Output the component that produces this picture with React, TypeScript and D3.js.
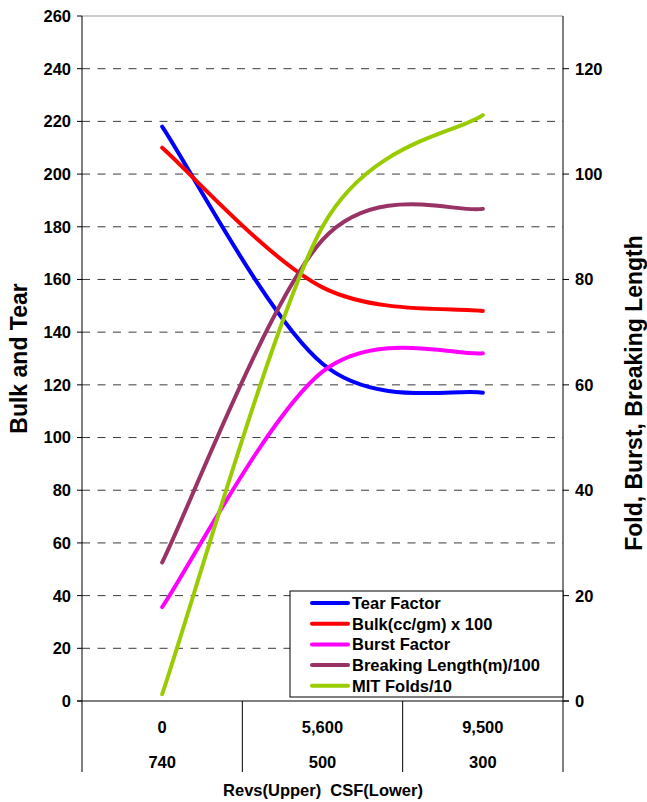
import React from "react";
import * as d3 from "d3";

const categoriesUpper = ["0", "5,600", "9,500"];
const categoriesLower = ["740", "500", "300"];
const tearFactor = [218, 128, 117];
const bulk = [210, 157, 148];
const burstFactor = [17.8, 62.5, 66];
const breakingLength = [26.3, 87.5, 93.4];
const mitFolds = [1.3, 90, 111.2];
const leftTicks = d3.range(0, 261, 20);
const rightTicks = d3.range(0, 121, 20);

const W = 647;
const H = 802;
const L = 82, R = 563, T = 16, B = 701;
const FONT = "'Liberation Sans', Arial, sans-serif";

// Excel-like smoothed curve: Catmull-Rom style Bezier (1/6 tangents),
// with each tangent limited to half the shorter adjacent segment.
class ExcelSmooth {
  _ctx: any;
  _pts: [number, number][] = [];
  constructor(ctx: any) { this._ctx = ctx; }
  areaStart() {}
  areaEnd() {}
  lineStart() { this._pts = []; }
  point(x: number, y: number) { this._pts.push([+x, +y]); }
  lineEnd() {
    const p = this._pts;
    const n = p.length;
    if (!n) return;
    const ctx = this._ctx;
    ctx.moveTo(p[0][0], p[0][1]);
    if (n === 1) return;
    const dist = (a: [number, number], b: [number, number]) => Math.hypot(b[0] - a[0], b[1] - a[1]);
    const m: [number, number][] = p.map((pt, i) => {
      const prev = p[Math.max(0, i - 1)];
      const next = p[Math.min(n - 1, i + 1)];
      let vx = (next[0] - prev[0]) / 6;
      let vy = (next[1] - prev[1]) / 6;
      if (i > 0 && i < n - 1) {
        const len = Math.hypot(vx, vy);
        const lim = Math.min(dist(prev, pt), dist(pt, next)) / 2;
        if (len > lim && len > 0) {
          vx *= lim / len;
          vy *= lim / len;
        }
      }
      return [vx, vy];
    });
    for (let i = 0; i < n - 1; i++) {
      ctx.bezierCurveTo(
        p[i][0] + m[i][0], p[i][1] + m[i][1],
        p[i + 1][0] - m[i + 1][0], p[i + 1][1] - m[i + 1][1],
        p[i + 1][0], p[i + 1][1]
      );
    }
  }
}
const curveExcel = (ctx: any) => new ExcelSmooth(ctx);

export default function App() {
  const x = d3.scaleBand<number>().domain([0, 1, 2]).range([L, R]).padding(0);
  const cx = (i: number) => (x(i) as number) + x.bandwidth() / 2;
  const yL = d3.scaleLinear().domain([0, 260]).range([B, T]);
  const yR = d3.scaleLinear().domain([0, 130]).range([B, T]);

  const series = [
    { name: "Tear Factor", values: tearFactor, axis: "L", color: "#0000FF" },
    { name: "Bulk(cc/gm) x 100", values: bulk, axis: "L", color: "#FF0000" },
    { name: "Burst Factor", values: burstFactor, axis: "R", color: "#FF00FF" },
    { name: "Breaking Length(m)/100", values: breakingLength, axis: "R", color: "#993366" },
    { name: "MIT Folds/10", values: mitFolds, axis: "R", color: "#99CC00" },
  ];

  const lineGen = (scale: d3.ScaleLinear<number, number>) =>
    d3
      .line<number>()
      .x((_, i) => cx(i))
      .y((d) => scale(d))
      .curve(curveExcel as any);

  const legendX = 290, legendY = 591, legendW = 273, legendH = 106;
  const fs = 16.5;

  return (
    <svg width={W} height={H} style={{ position: "absolute", left: 0, top: 0, background: "#fff" }} fontFamily={FONT}>
      {/* gridlines */}
      {leftTicks.filter((t) => t > 0 && t < 260).map((t) => (
        <line key={"g" + t} x1={L} x2={R} y1={yL(t)} y2={yL(t)} stroke="#3a3a3a" strokeWidth={1} strokeDasharray="8,7.5" />
      ))}
      {/* top border */}
      <line x1={L} x2={R} y1={T} y2={T} stroke="#999" strokeWidth={1} />
      {/* axes */}
      <line x1={L} x2={L} y1={T} y2={772} stroke="#000" strokeWidth={1} />
      <line x1={R} x2={R} y1={T} y2={772} stroke="#000" strokeWidth={1} />
      <line x1={L - 5} x2={R + 6} y1={B} y2={B} stroke="#000" strokeWidth={1} />
      {[1, 2].map((i) => (
        <line key={"sep" + i} x1={x(i) as number} x2={x(i) as number} y1={B} y2={772} stroke="#000" strokeWidth={1} />
      ))}
      {/* left ticks */}
      {leftTicks.map((t) => (
        <g key={"lt" + t}>
          <line x1={L - 5} x2={L} y1={yL(t)} y2={yL(t)} stroke="#000" />
          <text x={71} y={yL(t)} dy="0.36em" textAnchor="end" fontSize={fs} fontWeight="bold">{t}</text>
        </g>
      ))}
      {/* right ticks */}
      {rightTicks.map((t) => (
        <g key={"rt" + t}>
          <line x1={R} x2={R + 6} y1={yR(t)} y2={yR(t)} stroke="#000" />
          <text x={575} y={yR(t)} dy="0.36em" textAnchor="start" fontSize={fs} fontWeight="bold">{t}</text>
        </g>
      ))}
      {/* category labels */}
      {categoriesUpper.map((c, i) => (
        <text key={"cu" + i} x={cx(i)} y={727} dy="0.36em" textAnchor="middle" fontSize={fs} fontWeight="bold">{c}</text>
      ))}
      {categoriesLower.map((c, i) => (
        <text key={"cl" + i} x={cx(i)} y={762} dy="0.36em" textAnchor="middle" fontSize={fs} fontWeight="bold">{c}</text>
      ))}
      <text x={323} y={790} dy="0.36em" textAnchor="middle" fontSize={fs} fontWeight="bold" style={{ whiteSpace: "pre" }}>
        {"Revs(Upper)  CSF(Lower)"}
      </text>
      {/* axis titles */}
      <text transform={`translate(19,${(T + B) / 2}) rotate(-90)`} textAnchor="middle" dy="0.36em" fontSize={23} fontWeight="bold">
        Bulk and Tear
      </text>
      <text transform={`translate(634,393) rotate(-90)`} textAnchor="middle" dy="0.36em" fontSize={23} fontWeight="bold">
        Fold, Burst, Breaking Length
      </text>
      {/* series */}
      {series.map((s) => (
        <path
          key={s.name}
          d={lineGen(s.axis === "L" ? yL : yR)(s.values) || ""}
          fill="none"
          stroke={s.color}
          strokeWidth={4}
          strokeLinecap="round"
          strokeLinejoin="round"
        />
      ))}
      {/* legend */}
      <rect x={legendX} y={legendY} width={legendW} height={legendH} fill="#fff" stroke="#000" strokeWidth={1} />
      {series.map((s, i) => {
        const yy = legendY + 12 + i * 20.7;
        return (
          <g key={"lg" + i}>
            <line x1={312} x2={348} y1={yy} y2={yy} stroke={s.color} strokeWidth={4} strokeLinecap="round" />
            <text x={352} y={yy} dy="0.36em" fontSize={fs} fontWeight="bold">{s.name}</text>
          </g>
        );
      })}
    </svg>
  );
}
